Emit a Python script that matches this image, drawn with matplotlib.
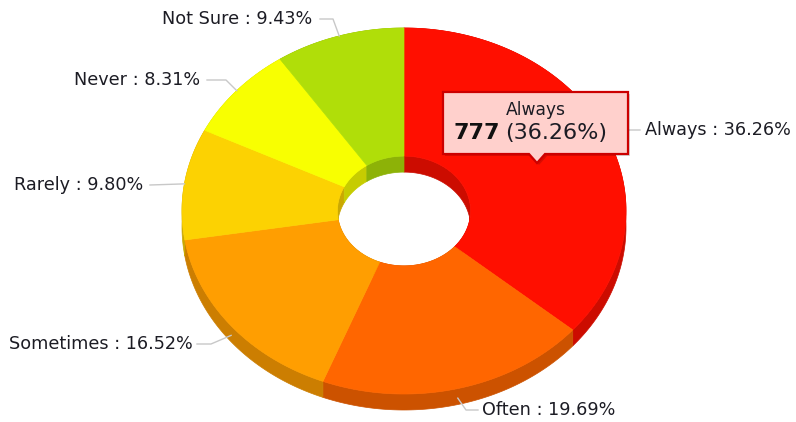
import numpy as np
import matplotlib
matplotlib.use("Agg")
import matplotlib.pyplot as plt
from matplotlib.patches import Polygon
import matplotlib.colors as mcolors

# data
categories = ["Always", "Often", "Sometimes", "Rarely", "Never", "Not Sure"]
counts = [777, 422, 354, 210, 178, 202]
colors = ["#FF0F00", "#FF6600", "#FF9E01", "#FCD202", "#F8FF01", "#B0DE09"]

# label placement (x, y, ha) and connector bend points
label_pos = [(645, 130, "left"), (482, 410, "left"), (193, 344, "right"),
             (143, 185, "right"), (200, 80, "right"), (312, 19, "right")]
bend_pos = [(628, 130), (466, 410), (211, 344), (150, 185), (226, 80), (333, 19)]
end_pos = [(640, 130), (478, 410), (197, 344), (150, 185), (207, 80), (320, 19)]

cx, cy = 404, 211
rx, ry = 222, 183
inner = 0.3
depth = 16

total = sum(counts)
pcts = [c / total * 100 for c in counts]
fracs = np.array(counts) / total
edges = np.concatenate([[0], np.cumsum(fracs)]) * 2 * np.pi


def arc(a1, a2, sx, sy, dy=0, n=120):
    a = np.linspace(a1, a2, n)
    return np.column_stack([cx + sx * np.sin(a), cy - sy * np.cos(a) + dy])


def darker(c, f=0.8):
    r, g, b = mcolors.to_rgb(c)
    return (r * f, g * f, b * f)


fig = plt.figure(figsize=(7.96, 4.22), dpi=100)
ax = fig.add_axes([0, 0, 1, 1])
ax.set_xlim(0, 796)
ax.set_ylim(422, 0)
ax.axis("off")

# side walls
for i in range(len(counts)):
    a1, a2 = edges[i], edges[i + 1]
    side = darker(colors[i])
    outer_top = arc(a1, a2, rx, ry)
    outer_bot = arc(a1, a2, rx, ry, depth)[::-1]
    ax.add_patch(Polygon(np.vstack([outer_top, outer_bot]), closed=True,
                         facecolor=side, edgecolor=side, lw=0.5))
    in_top = arc(a1, a2, rx * inner, ry * 0.3)
    in_bot = arc(a1, a2, rx * inner, ry * 0.3, depth)[::-1]
    ax.add_patch(Polygon(np.vstack([in_top, in_bot]), closed=True,
                         facecolor=side, edgecolor=side, lw=0.5))

# top faces
for i in range(len(counts)):
    a1, a2 = edges[i], edges[i + 1]
    pts = np.vstack([arc(a1, a2, rx, ry), arc(a2, a1, rx * inner, ry * 0.3)])
    ax.add_patch(Polygon(pts, closed=True, facecolor=colors[i],
                         edgecolor=colors[i], lw=0.5))

# labels and connectors
for i in range(len(counts)):
    mid = (edges[i] + edges[i + 1]) / 2
    ex = cx + rx * np.sin(mid)
    ey = cy - ry * np.cos(mid)
    if np.cos(mid) < 0:
        ey += depth * 0.6
    bx, by = bend_pos[i]
    lx, ly = end_pos[i]
    ax.plot([ex, bx, lx], [ey, by, ly], color="#c8c8c8", lw=1, zorder=1)
    tx, ty, ha = label_pos[i]
    ax.text(tx, ty, f"{categories[i]} : {pcts[i]:.2f}%", ha=ha, va="center",
            fontsize=12.7, color="#1c1c24", family="DejaVu Sans")

# tooltip for first slice
bx0, bx1, by0, by1 = 443, 628, 92, 154
tip = [(bx0, by0), (bx1, by0), (bx1, by1), (545, by1), (537, 163),
       (529, by1), (bx0, by1)]
shadow = [(x + 2, y + 2) for x, y in tip]
ax.add_patch(Polygon(shadow, closed=True, facecolor=(0, 0, 0, 0.15),
                     edgecolor="none", zorder=4))
ax.add_patch(Polygon(tip, closed=True, facecolor="#FFD0CC",
                     edgecolor="#CC0000", lw=1.6, zorder=5))
ax.text(536, 110, categories[0], ha="center", va="center", fontsize=12.3,
        color="#1c1c24", zorder=6)
ax.text(500, 133, f"{counts[0]}", ha="right", va="center", fontsize=16,
        fontweight="bold", color="#111111", zorder=6)
ax.text(505, 133, f"({pcts[0]:.2f}%)", ha="left", va="center", fontsize=16,
        color="#1c1c24", zorder=6)

fig.savefig("out.png", dpi=100, facecolor="white")
